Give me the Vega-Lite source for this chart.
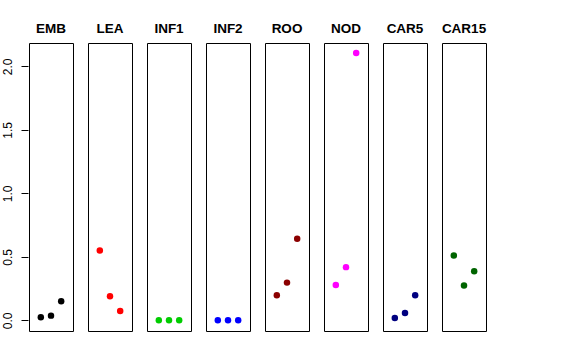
{
  "$schema": "https://vega.github.io/schema/vega-lite/v6.json",
  "padding": {"left": 1, "top": 21, "right": 5, "bottom": 5},
  "background": "white",
  "data": {"values": [
    {"tissue": "EMB", "idx": 1, "value": 0.024},
    {"tissue": "EMB", "idx": 2, "value": 0.037},
    {"tissue": "EMB", "idx": 3, "value": 0.15},
    {"tissue": "LEA", "idx": 1, "value": 0.55},
    {"tissue": "LEA", "idx": 2, "value": 0.19},
    {"tissue": "LEA", "idx": 3, "value": 0.073},
    {"tissue": "INF1", "idx": 1, "value": 0.0},
    {"tissue": "INF1", "idx": 2, "value": 0.0},
    {"tissue": "INF1", "idx": 3, "value": 0.0},
    {"tissue": "INF2", "idx": 1, "value": 0.0},
    {"tissue": "INF2", "idx": 2, "value": 0.0},
    {"tissue": "INF2", "idx": 3, "value": 0.0},
    {"tissue": "ROO", "idx": 1, "value": 0.197},
    {"tissue": "ROO", "idx": 2, "value": 0.297},
    {"tissue": "ROO", "idx": 3, "value": 0.642},
    {"tissue": "NOD", "idx": 1, "value": 0.279},
    {"tissue": "NOD", "idx": 2, "value": 0.419},
    {"tissue": "NOD", "idx": 3, "value": 2.105},
    {"tissue": "CAR5", "idx": 1, "value": 0.018},
    {"tissue": "CAR5", "idx": 2, "value": 0.058},
    {"tissue": "CAR5", "idx": 3, "value": 0.197},
    {"tissue": "CAR15", "idx": 1, "value": 0.511},
    {"tissue": "CAR15", "idx": 2, "value": 0.274},
    {"tissue": "CAR15", "idx": 3, "value": 0.387}
  ]},
  "facet": {
    "column": {
      "field": "tissue",
      "type": "nominal",
      "sort": ["EMB", "LEA", "INF1", "INF2", "ROO", "NOD", "CAR5", "CAR15"],
      "header": {
        "title": null,
        "labelFont": "Liberation Sans",
        "labelFontWeight": "bold",
        "labelFontSize": 13.5,
        "labelColor": "black",
        "labelPadding": -4,
        "labelBaseline": "alphabetic"
      }
    }
  },
  "spacing": 13,
  "spec": {
    "width": 44,
    "height": 288,
    "mark": {"type": "point", "filled": true, "size": 42, "opacity": 1},
    "encoding": {
      "x": {
        "field": "idx",
        "type": "quantitative",
        "scale": {"domain": [-0.16, 4.16], "nice": false, "zero": false},
        "axis": null
      },
      "y": {
        "field": "value",
        "type": "quantitative",
        "scale": {"domain": [-0.084, 2.184], "nice": false, "zero": false},
        "axis": {
          "title": null,
          "values": [0, 0.5, 1, 1.5, 2],
          "format": ".1f",
          "labelAngle": -90,
          "labelAlign": "center",
          "labelBaseline": "bottom",
          "labelFont": "Liberation Sans",
          "labelFontSize": 12,
          "labelColor": "black",
          "labelPadding": 7,
          "tickSize": 7,
          "tickColor": "black",
          "domain": false,
          "grid": false,
          "minExtent": 24,
          "maxExtent": 24
        }
      },
      "color": {
        "field": "tissue",
        "type": "nominal",
        "scale": {
          "domain": ["EMB", "LEA", "INF1", "INF2", "ROO", "NOD", "CAR5", "CAR15"],
          "range": ["#000000", "#FF0000", "#00CD00", "#0000FF", "#8B0000", "#FF00FF", "#000080", "#006400"]
        },
        "legend": null
      }
    }
  },
  "config": {
    "view": {"stroke": "black", "strokeWidth": 1}
  }
}
